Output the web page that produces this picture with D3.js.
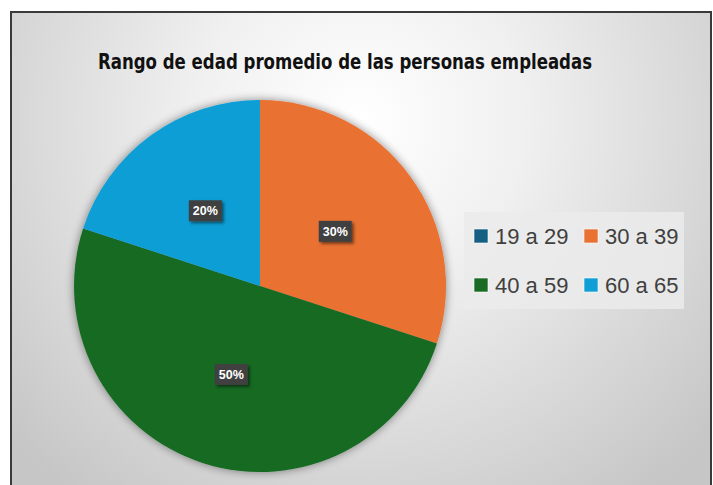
<!DOCTYPE html>
<html>
<head>
<meta charset="utf-8">
<script src="https://cdn.jsdelivr.net/npm/d3@7"></script>
<style>
  body { margin: 0; background: #fff; }
</style>
</head>
<body>
<script>
var width = 713, height = 485;

var categories = ["19 a 29", "30 a 39", "40 a 59", "60 a 65"];
var values = [0, 30, 50, 20];
var colors = ["#156082", "#E97132", "#196B24", "#0F9ED5"];
var title = "Rango de edad promedio de las personas empleadas";

var svg = d3.select("body").append("svg")
    .attr("width", width)
    .attr("height", height);

var defs = svg.append("defs");

var bg = defs.append("radialGradient")
    .attr("id", "bg")
    .attr("gradientUnits", "userSpaceOnUse")
    .attr("cx", 360).attr("cy", 120).attr("r", 470);
bg.append("stop").attr("offset", "0%").attr("stop-color", "#ffffff");
bg.append("stop").attr("offset", "35%").attr("stop-color", "#f0f0f0");
bg.append("stop").attr("offset", "100%").attr("stop-color", "#c6c6c6");

var pieShadow = defs.append("filter").attr("id", "pieShadow")
    .attr("x", "-20%").attr("y", "-20%").attr("width", "140%").attr("height", "140%");
pieShadow.append("feGaussianBlur").attr("in", "SourceAlpha").attr("stdDeviation", 5).attr("result", "b");
pieShadow.append("feOffset").attr("in", "b").attr("dx", 0).attr("dy", 0).attr("result", "o");
pieShadow.append("feComponentTransfer").attr("in", "o").attr("result", "s")
    .append("feFuncA").attr("type", "linear").attr("slope", 0.45);
var m1 = pieShadow.append("feMerge");
m1.append("feMergeNode").attr("in", "s");
m1.append("feMergeNode").attr("in", "SourceGraphic");

var boxShadow = defs.append("filter").attr("id", "boxShadow")
    .attr("x", "-30%").attr("y", "-30%").attr("width", "170%").attr("height", "180%");
boxShadow.append("feGaussianBlur").attr("in", "SourceAlpha").attr("stdDeviation", 1.5).attr("result", "b");
boxShadow.append("feOffset").attr("in", "b").attr("dx", 2).attr("dy", 2).attr("result", "o");
boxShadow.append("feComponentTransfer").attr("in", "o").attr("result", "s")
    .append("feFuncA").attr("type", "linear").attr("slope", 0.5);
var m2 = boxShadow.append("feMerge");
m2.append("feMergeNode").attr("in", "s");
m2.append("feMergeNode").attr("in", "SourceGraphic");

// chart area with frame
svg.append("rect")
    .attr("x", 11).attr("y", 12)
    .attr("width", 700).attr("height", 490)
    .style("fill", "url(#bg)")
    .style("stroke", "#3a3a3a")
    .style("stroke-width", 2);

svg.append("text")
    .attr("x", 345).attr("y", 69)
    .attr("text-anchor", "middle")
    .attr("textLength", 494)
    .attr("lengthAdjust", "spacingAndGlyphs")
    .style("font-family", "'Liberation Sans Narrow', 'DejaVu Sans Condensed', sans-serif")
    .style("font-weight", "bold")
    .style("font-size", "21px")
    .style("fill", "#111")
    .text(title);

var cx = 260, cy = 286, radius = 186;

var data = categories.map(function (c, i) {
    return { name: c, value: values[i], color: colors[i] };
});

var pie = d3.pie()
    .value(function (d) { return d.value; })
    .sort(null);

var arc = d3.arc().innerRadius(0).outerRadius(radius);

var total = d3.sum(values);

var g = svg.append("g")
    .attr("transform", "translate(" + cx + "," + cy + ")");

g.append("g")
    .attr("filter", "url(#pieShadow)")
    .selectAll("path")
    .data(pie(data))
    .enter()
    .append("path")
    .attr("d", arc)
    .style("fill", function (d) { return d.data.color; });

var labels = g.selectAll(".lbl")
    .data(pie(data).filter(function (d) { return d.data.value > 0; }))
    .enter()
    .append("g")
    .attr("class", "lbl")
    .attr("transform", function (d) {
        var c = arc.centroid(d);
        return "translate(" + c[0] + "," + c[1] + ")";
    });

labels.append("rect")
    .attr("x", -16.5).attr("y", -10.5)
    .attr("width", 33).attr("height", 21)
    .style("fill", "#404040")
    .attr("filter", "url(#boxShadow)");

labels.append("text")
    .attr("text-anchor", "middle")
    .attr("dy", "4.5")
    .style("font-family", "'Liberation Sans', Arial, sans-serif")
    .style("font-weight", "bold")
    .style("font-size", "12.5px")
    .style("fill", "#ffffff")
    .text(function (d) { return Math.round(d.data.value / total * 100) + "%"; });

// legend
var legend = svg.append("g");
legend.append("rect")
    .attr("x", 464).attr("y", 212)
    .attr("width", 220).attr("height", 97)
    .style("fill", "#ebebeb")
    .style("opacity", 0.85);

var legendItems = legend.selectAll(".leg")
    .data(data)
    .enter()
    .append("g")
    .attr("class", "leg")
    .attr("transform", function (d, i) {
        var col = i % 2, row = Math.floor(i / 2);
        return "translate(" + (474 + col * 110) + "," + (236 + row * 49) + ")";
    });

legendItems.append("rect")
    .attr("x", 0).attr("y", -7)
    .attr("width", 14).attr("height", 14)
    .style("fill", function (d) { return d.color; })
    .style("stroke", "#ffffff")
    .style("stroke-width", 0.6);

legendItems.append("text")
    .attr("x", 21).attr("dy", "0.36em")
    .style("font-family", "'Liberation Sans', Arial, sans-serif")
    .style("font-size", "22px")
    .style("fill", "#404040")
    .text(function (d) { return d.name; });
</script>
</body>
</html>
